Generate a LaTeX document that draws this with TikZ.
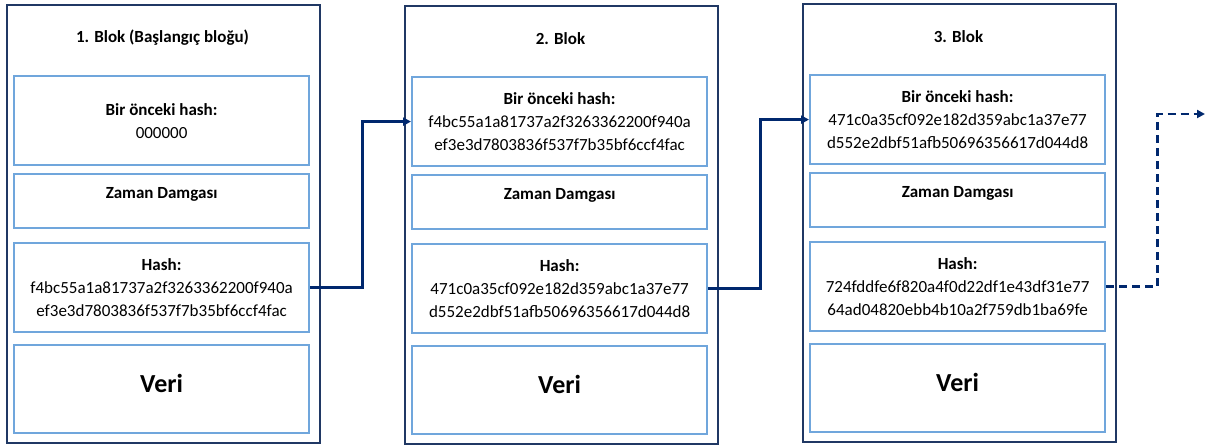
\documentclass[tikz,border=0pt]{standalone}
\usepackage{fontspec}
\setmainfont{Carlito}
\usetikzlibrary{arrows.meta}
\definecolor{outerblue}{RGB}{32,56,100}
\definecolor{innerblue}{RGB}{112,166,220}
\definecolor{arrowblue}{RGB}{0,40,110}
\tikzset{
  blockbox/.style={draw=outerblue, line width=2pt, rectangle, minimum width=313pt, minimum height=438pt, anchor=north west, inner sep=0pt},
  fieldbox/.style={draw=innerblue, line width=2.2pt, rectangle, minimum width=295pt, anchor=north west, inner sep=0pt, align=center, font=\fontsize{17}{23}\selectfont},
  blocktitle/.style={font=\bfseries\fontsize{17}{20}\selectfont, inner sep=0pt},
  fieldlabel/.style={font=\bfseries\fontsize{17}{20}\selectfont, inner sep=0pt},
  datalabel/.style={font=\bfseries\fontsize{26}{30}\selectfont, inner sep=0pt},
  link/.style={draw=arrowblue, line width=2.6pt, -{Triangle[length=8pt,width=8pt]}},
  nextlink/.style={link, dash pattern=on 8pt off 5pt}
}
\newcommand\lbl[1]{{\bfseries\fontsize{17}{23}\selectfont #1}}
\newcommand\chainblk[6]{%
  \node[blockbox] (#1) at (#2,#3) {};
  \node[blocktitle] (#1title) at (#2+156.5,#3+34) {#4};
  \node[fieldbox, minimum height=89pt] (#1prev) at (#2+7,#3+71) {\lbl{Bir önceki hash:}\\#5};
  \node[fieldbox, minimum height=54pt] (#1time) at (#2+7,#3+169) {};
  \node[fieldlabel, yshift=7pt] (#1timetext) at (#1time.center) {Zaman Damgası};
  \node[fieldbox, minimum height=89pt] (#1hash) at (#2+7,#3+238) {\lbl{Hash:}\\#6};
  \node[fieldbox, minimum height=88pt] (#1data) at (#2+7,#3+340) {};
  \node[datalabel, yshift=6pt] (#1datatext) at (#1data.center) {Veri};
}
\begin{document}
\begin{tikzpicture}[x=1pt,y=-1pt]
\fill[white] (0,0) rectangle (1207,446);
\useasboundingbox (0,0) rectangle (1207,446);
\chainblk{b1}{6}{4}{1. Blok (Başlangıç bloğu)}{000000}{f4bc55a1a81737a2f3263362200f940a\\ef3e3d7803836f537f7b35bf6ccf4fac}
\chainblk{b2}{404}{5}{2. Blok}{f4bc55a1a81737a2f3263362200f940a\\ef3e3d7803836f537f7b35bf6ccf4fac}{471c0a35cf092e182d359abc1a37e77\\d552e2dbf51afb50696356617d044d8}
\chainblk{b3}{802}{3}{3. Blok}{471c0a35cf092e182d359abc1a37e77\\d552e2dbf51afb50696356617d044d8}{724fddfe6f820a4f0d22df1e43df31e77\\64ad04820ebb4b10a2f759db1ba69fe}
\coordinate (next) at (1205,114);
\draw[link] (b1hash.east) -- ++(52,0) |- (b2prev.west);
\draw[link] (b2hash.east) -- ++(52,0) |- (b3prev.west);
\draw[nextlink] (b3hash.east) -- ++(51,0) |- (next);
\end{tikzpicture}
\end{document}
